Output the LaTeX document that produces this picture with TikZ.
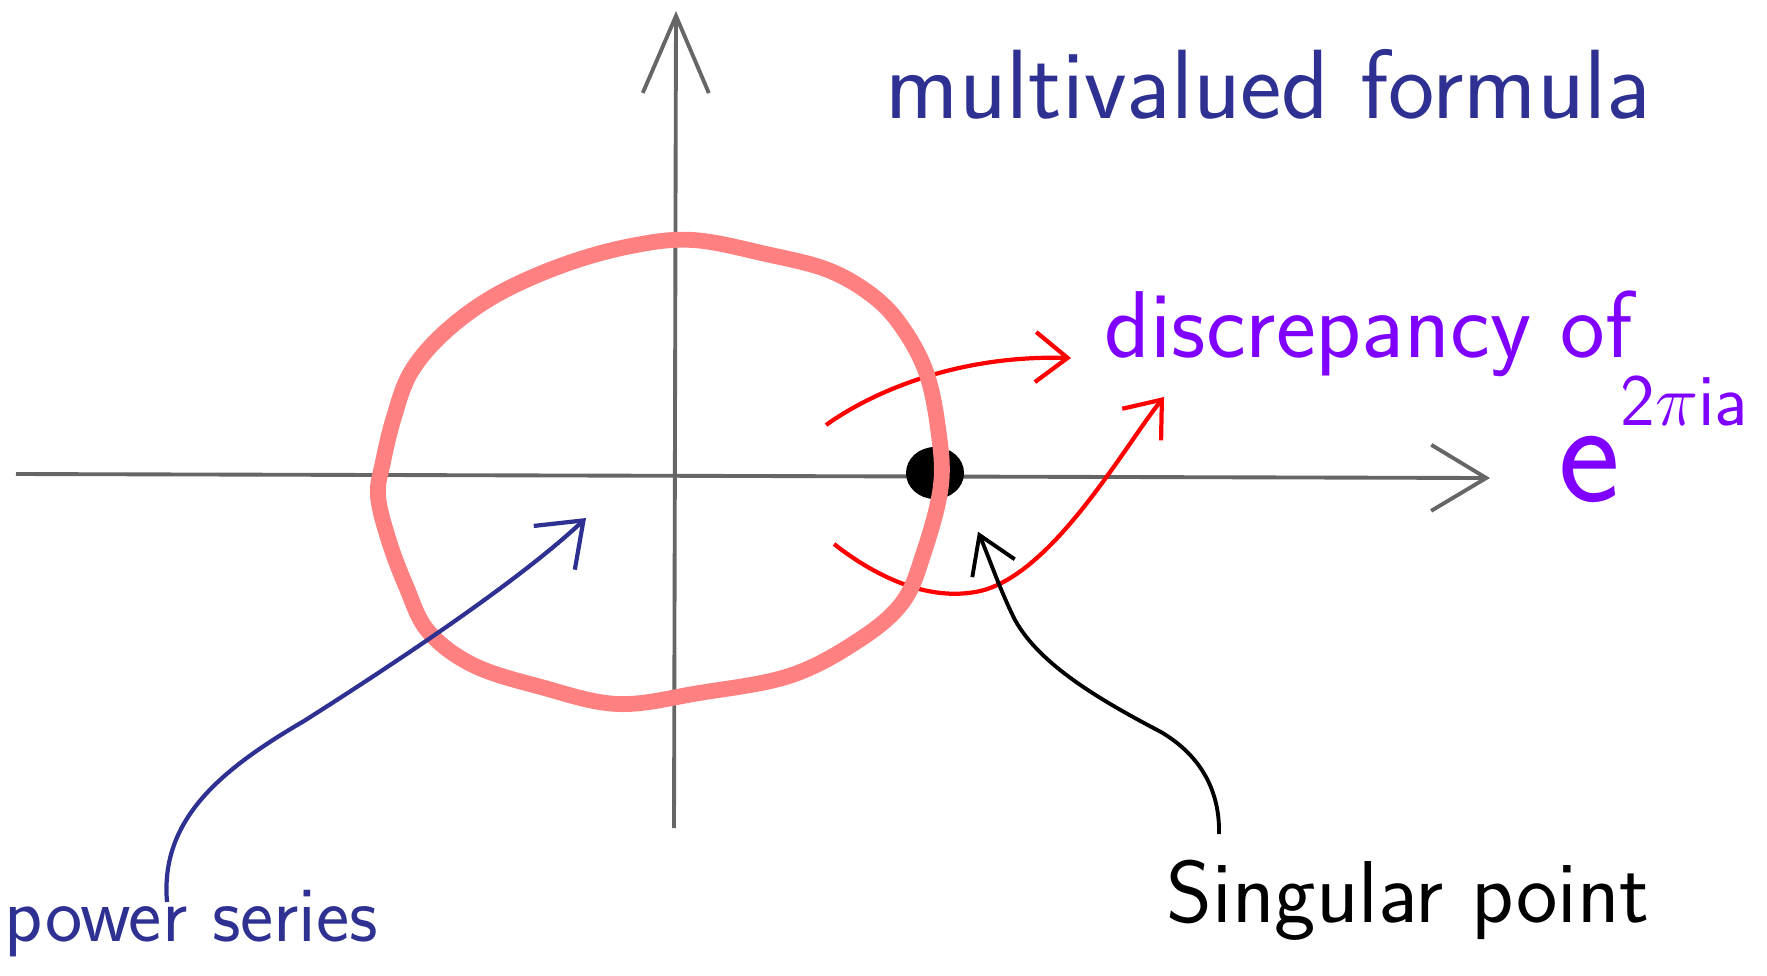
\documentclass[tikz,border=0pt]{standalone}
\definecolor{inkblue}{HTML}{2E3192}
\definecolor{inkviolet}{HTML}{8000FF}
\definecolor{inkred}{HTML}{FF0000}
\definecolor{inkpink}{HTML}{FF8080}
\definecolor{axisgray}{HTML}{666666}
\usetikzlibrary{arrows.meta,shapes.geometric,calc}

\begin{document}
\begin{tikzpicture}[x=0.01cm,y=-0.01cm,font=\sffamily]
        \tikzset{
            cplxaxis/.style={
                draw=axisgray,
                line width=1.1pt
            },
            cplxdisc/.style={
                draw=inkpink,
                line width=4.5pt,
                line join=round
            },
            cplxred/.style={
                -{Straight Barb[length=3.2mm,width=5mm]},
                draw=inkred,
                line width=1.2pt
            },
            cplxblue/.style={
                -{Straight Barb[length=4mm,width=6mm]},
                draw=inkblue,
                line width=1.2pt
            },
            cplxblack/.style={
                -{Straight Barb[length=3.6mm,width=4.6mm]},
                draw=black,
                line width=1.1pt
            },
            cplxlabel/.style={
                inner sep=0pt,
                anchor=base west
            }
        }
        \useasboundingbox (0,0) rectangle (1767,975);

        % axes and their ends
        \coordinate (xleft) at (16,474);
        \coordinate (xright) at (1490,478);
        \coordinate (ybottom) at (674,828);
        \coordinate (ytop) at (676,11);
        \coordinate (redup) at (826,425);
        \coordinate (redlow) at (834,544);
        \coordinate (inside) at (586,518);

        \node[cplxlabel, text=inkblue,
            font=\sffamily\fontsize{28}{32}\selectfont] (multi) at (885,118)
            {multivalued formula};
        \node[cplxlabel, text=inkviolet,
            font=\sffamily\fontsize{27}{32}\selectfont] (discrep) at (1104,357)
            {discrepancy of};
        \node[cplxlabel, text=inkviolet] (expo) at (1558,501)
            {{\fontsize{42}{42}\selectfont e}\raisebox{0.75cm}{\fontsize{21}{21}\selectfont 2$\pi$ia}};
        \node[cplxlabel, text=black,
            font=\sffamily\fontsize{25}{30}\selectfont] (singular) at (1166,922)
            {Singular point};
        \node[cplxlabel, text=inkblue,
            font=\sffamily\fontsize{22.5}{27}\selectfont] (power) at (4,941)
            {power series};

        \draw[cplxaxis, -{Straight Barb[length=5.5mm,width=6.6mm]}] (xleft) -- (xright);
        \draw[cplxaxis, -{Straight Barb[length=7.7mm,width=6.6mm]}] (ybottom) -- (ytop);

        \node[ellipse, fill=black, minimum width=5.8mm, minimum height=5.2mm,
            inner sep=0pt] (sing) at (935,473) {};

        \draw[cplxred] (redup) .. controls (875,390) and (960,355) ..
            ($(discrep.base west)+(-33,1)$);
        \draw[cplxred] (redlow) .. controls (880,580) and (930,600) .. (975,592)
            .. controls (1050,580) and (1125,445) .. ($(discrep.base west)+(60,40)$);

        \draw[cplxdisc] plot[smooth cycle, tension=0.6] coordinates {
            (693,240) (766,254) (828,270) (873,296) (902,327) (926,372)
            (938,428) (941,485) (924,552) (902,603) (856,642) (789,676)
            (699,693) (618,704) (541,687) (473,665) (428,631) (406,586)
            (389,541) (378,496) (383,462) (394,417) (411,372) (445,332)
            (496,295) (563,265) (631,246)};

        \draw[cplxblue] ($(power.base west)+(163,-39)$)
            .. controls (160,820) and (220,770) .. (304,721)
            .. controls (400,660) and (520,580) .. (inside);
        \draw[cplxblack] ($(singular.base west)+(53,-88)$)
            .. controls (1220,790) and (1200,755) .. (1161,732)
            .. controls (1100,700) and (1040,665) .. (1015,620)
            .. controls (1000,590) and (990,560) .. ($(sing.south)+(43,32)$);
    \end{tikzpicture}
\end{document}
